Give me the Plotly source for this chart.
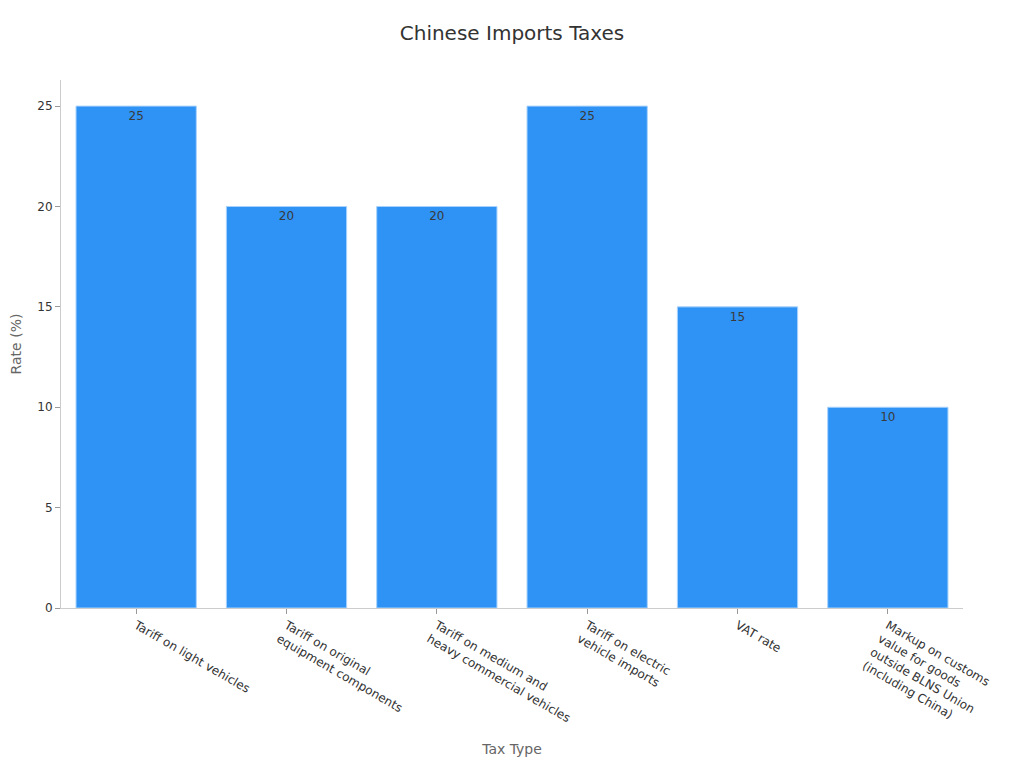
import plotly.graph_objects as go

# Tax types and their rates
tax_types = [
    'Tariff on light vehicles',
    'Tariff on original<br>equipment components',
    'Tariff on medium and<br>heavy commercial vehicles',
    'Tariff on electric<br>vehicle imports',
    'VAT rate',
    'Markup on customs<br>value for goods<br>outside BLNS Union<br>(including China)',
]
rates = [25, 20, 20, 25, 15, 10]

fig = go.Figure()
fig.add_trace(go.Bar(
    x=tax_types,
    y=rates,
    text=[str(r) for r in rates],
    textposition='inside',
    insidetextanchor='end',
    textfont=dict(size=12, color='#3a3a3a'),
    marker=dict(color='#2f93f6', line=dict(color='#a9d2fb', width=1)),
    width=0.8,
))

# the page body adds an 8px offset, so margins are trimmed by that much
fig.update_layout(
    title=dict(text='Chinese Imports Taxes', xref='container', x=504 / 1024, xanchor='center',
               yref='container', y=1 - 25 / 768, yanchor='middle',
               font=dict(size=20, color='#333333')),
    font=dict(family='DejaVu Sans', size=12, color='#333333'),
    plot_bgcolor='white',
    paper_bgcolor='white',
    width=1024,
    height=768,
    margin=dict(l=53, r=69, t=72, b=168),
    showlegend=False,
    xaxis=dict(
        title=dict(text='Tax Type', font=dict(size=14, color='#666666')),
        tickangle=30,
        automargin=False,
        showline=True, linecolor='#cccccc',
        ticks='outside', tickcolor='#999999', ticklen=5,
        showgrid=False,
    ),
    yaxis=dict(
        title=dict(text='Rate (%)', font=dict(size=14, color='#666666')),
        range=[0, 26.3],
        dtick=5,
        automargin=False,
        showline=True, linecolor='#cccccc',
        ticks='outside', tickcolor='#999999', ticklen=5,
        showgrid=False, zeroline=False,
    ),
)

fig.write_html('out.html')
